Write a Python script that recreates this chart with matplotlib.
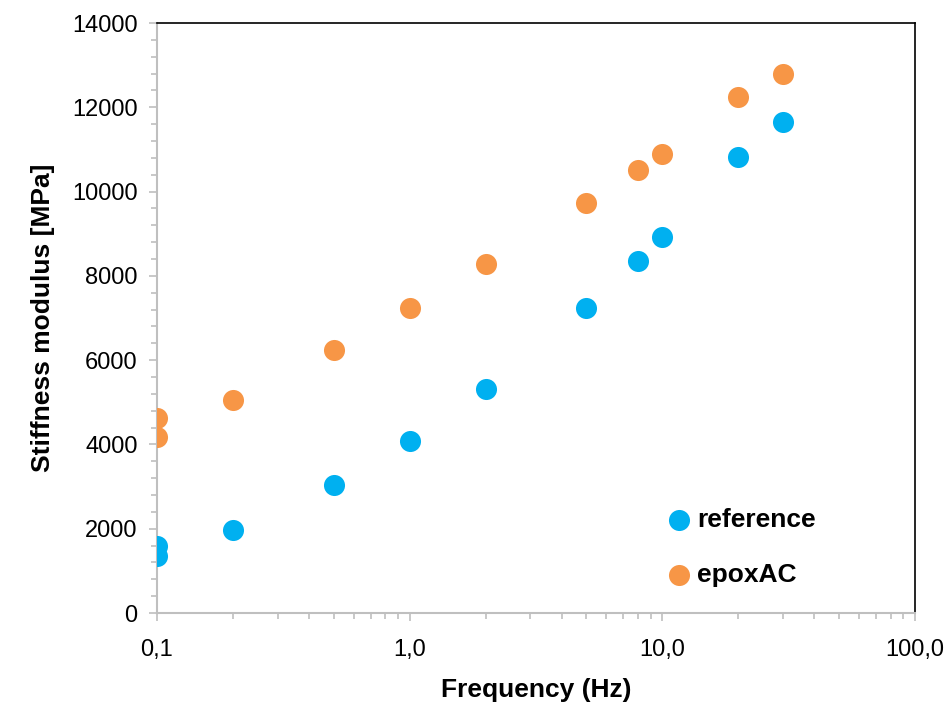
import matplotlib
matplotlib.use("Agg")
import matplotlib.pyplot as plt
from matplotlib.ticker import FixedLocator, FuncFormatter, LogLocator, MultipleLocator, NullFormatter

plt.rcParams['font.family'] = ['Liberation Sans', 'DejaVu Sans']

freq_ref = [0.1, 0.1, 0.2, 0.5, 1, 2, 5, 8, 10, 20, 30]
stiff_ref = [1590, 1355, 1970, 3040, 4080, 5316, 7238, 8353, 8923, 10821, 11652]
freq_epox = [0.1, 0.1, 0.2, 0.5, 1, 2, 5, 8, 10, 20, 30]
stiff_epox = [4627, 4176, 5055, 6241, 7238, 8282, 9730, 10512, 10892, 12245, 12791]
xticks = [0.1, 1, 10, 100]
xticklabels = ['0,1', '1,0', '10,0', '100,0']

fig = plt.figure(figsize=(9.49, 7.06), dpi=100)
ax = fig.add_axes([0.1654, 0.1317, 0.7988, 0.8357])

ax.scatter(freq_ref, stiff_ref, s=230, color='#00B0F0', label='reference', zorder=3, linewidths=0)
ax.scatter(freq_epox, stiff_epox, s=230, color='#F79646', label='epoxAC', zorder=3, linewidths=0)

ax.set_xscale('log')
ax.set_xlim(0.1, 100)
ax.set_ylim(0, 14000)
ax.xaxis.set_major_locator(FixedLocator(xticks))
ax.xaxis.set_major_formatter(FuncFormatter(lambda v, p: xticklabels[xticks.index(v)] if v in xticks else ''))
ax.xaxis.set_minor_locator(LogLocator(base=10, subs=range(2, 10)))
ax.xaxis.set_minor_formatter(NullFormatter())
ax.yaxis.set_major_locator(MultipleLocator(2000))
ax.yaxis.set_minor_locator(MultipleLocator(400))

for s in ['left', 'bottom']:
    ax.spines[s].set_color('#BFBFBF')
    ax.spines[s].set_linewidth(1.5)
for s in ['top', 'right']:
    ax.spines[s].set_color('black')
    ax.spines[s].set_linewidth(1.2)

ax.tick_params(which='both', direction='out', color='#BFBFBF', width=1.2)
ax.tick_params(which='major', length=6, labelsize=17, pad=8)
ax.tick_params(which='minor', length=4)
ax.tick_params(axis='x', which='major', pad=13)

ax.set_xlabel('Frequency (Hz)', fontsize=19, fontweight='bold', labelpad=12)
ax.set_ylabel('Stiffness modulus [MPa]', fontsize=19, fontweight='bold', labelpad=12)

leg = ax.legend(loc='upper left', bbox_to_anchor=(0.65, 0.20), frameon=False,
                prop={'size': 19, 'weight': 'bold'}, handletextpad=0.1,
                handlelength=1.2, labelspacing=1.15, borderpad=0, markerscale=1.0)

fig.savefig('out.png', dpi=100)
